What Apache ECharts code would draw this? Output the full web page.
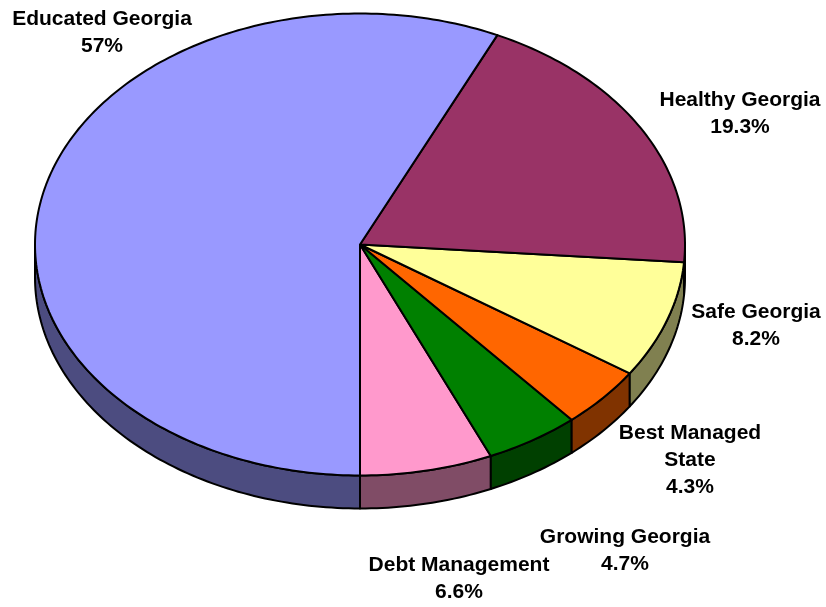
<!DOCTYPE html>
<html>
<head>
<meta charset="utf-8">
<script src="https://cdn.jsdelivr.net/npm/echarts@6/dist/echarts.min.js"></script>
<style>
html, body { margin: 0; padding: 0; background: #fff; }
#chart { width: 826px; height: 607px; }
</style>
</head>
<body>
<div id="chart"></div>
<script>
// slices in drawing order, counter-clockwise from 6 o'clock
var names = ['Debt Management', 'Growing Georgia', 'Best Managed State', 'Safe Georgia', 'Healthy Georgia', 'Educated Georgia'];
var values = [6.6, 4.7, 4.3, 8.2, 19.3, 57];
var labels = ['Debt Management\n6.6%', 'Growing Georgia\n4.7%', 'Best Managed\nState\n4.3%', 'Safe Georgia\n8.2%', 'Healthy Georgia\n19.3%', 'Educated Georgia\n57%'];
var topColors = ['#FF99CC', '#008000', '#FF6600', '#FFFF99', '#993366', '#9999FF'];
var sideColors = ['#804C66', '#004000', '#803300', '#808050', '#4C1A33', '#4C4C80'];

// layout of the tilted pie
var cx = 360, cy = 244.5, rx = 325, ry = 231, depth = 33;
// label anchors (centre of the text block)
var labelAt = [[459, 579], [625, 551], [690, 460], [756, 326], [740, 114], [102, 33]];

var total = values.reduce(function (a, b) { return a + b; }, 0);

function pt(phi, dy) {
  var r = phi * Math.PI / 180;
  return [cx + rx * Math.cos(r), cy + ry * Math.sin(r) + (dy || 0)];
}

function arc(a, b, dy) {
  // points from angle a to angle b (degrees)
  var pts = [];
  var n = Math.max(2, Math.ceil(Math.abs(b - a)));
  for (var i = 0; i <= n; i++) pts.push(pt(a + (b - a) * i / n, dy));
  return pts;
}

function sliceAngles(idx) {
  var before = 0;
  for (var i = 0; i < idx; i++) before += values[i];
  var start = 90 - 360 * before / total;
  var end = start - 360 * values[idx] / total;
  return [end, start];
}

function renderSide(params, api) {
  var idx = params.dataIndex;
  var ang = sliceAngles(idx);
  var lo = ang[0], hi = ang[1];
  var children = [];
  // visible front rim: angles in [0,180] (mod 360)
  [[0, 180], [-360, -180]].forEach(function (rng) {
    var a = Math.max(lo, rng[0]), b = Math.min(hi, rng[1]);
    if (b - a > 0.01) {
      var pts = arc(a, b, 0).concat(arc(b, a, depth));
      children.push({
        type: 'polygon',
        shape: { points: pts },
        style: { fill: sideColors[idx], stroke: '#000', lineWidth: 2, lineJoin: 'round' }
      });
    }
  });
  return { type: 'group', children: children };
}

function renderTop(params, api) {
  var idx = params.dataIndex;
  var ang = sliceAngles(idx);
  var pts = [[cx, cy]].concat(arc(ang[1], ang[0], 0));
  return {
    type: 'polygon',
    shape: { points: pts },
    style: { fill: topColors[idx], stroke: '#000', lineWidth: 2, lineJoin: 'round' }
  };
}

var chart = echarts.init(document.getElementById('chart'));

var seriesData = names.map(function (n, i) { return { name: n, value: values[i] }; });

chart.setOption({
  animation: false,
  backgroundColor: '#fff',
  series: [
    {
      type: 'custom',
      coordinateSystem: 'none',
      silent: true,
      z: 1,
      renderItem: renderSide,
      data: seriesData
    },
    {
      type: 'custom',
      coordinateSystem: 'none',
      silent: true,
      z: 2,
      renderItem: renderTop,
      data: seriesData
    }
  ],
  graphic: labels.map(function (t, i) {
    return {
      type: 'text',
      x: labelAt[i][0],
      y: labelAt[i][1],
      z: 10,
      style: {
        text: t,
        fill: '#000',
        font: 'bold 21px "Liberation Sans", Arial, sans-serif',
        lineHeight: 27,
        align: 'center',
        verticalAlign: 'middle'
      }
    };
  })
});
</script>
</body>
</html>
